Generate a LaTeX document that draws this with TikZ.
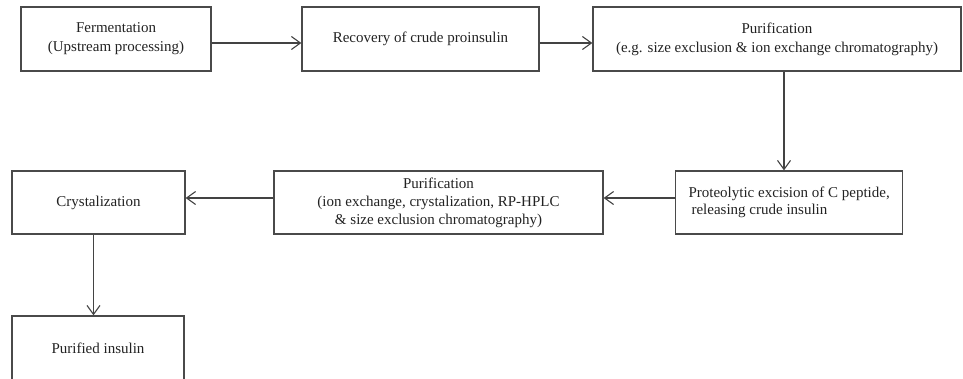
\documentclass[tikz,border=0pt]{standalone}
\usepackage{fontspec}
\setmainfont{Liberation Serif}
\usetikzlibrary{arrows.meta}
\definecolor{ink}{HTML}{222222}
\definecolor{edge}{HTML}{4A4A4A}
\begin{document}
\begin{tikzpicture}[x=1pt,y=-1pt,
  box/.style={draw=edge,line width=1.3pt,inner sep=0pt,text=ink,
    font=\fontsize{15}{19}\selectfont,align=center},
  arr/.style={draw=ink!85,line width=1.1pt,-{Straight Barb[length=9pt,width=13pt,line width=1.1pt]}}]
\useasboundingbox (0,0) rectangle (963,378);
\begin{scope}
\clip (0,0) rectangle (963,378);
\node[box,minimum width=190pt,minimum height=64pt] (b1) at (116,39) {Fermentation\\(Upstream processing)};
\node[box,minimum width=237pt,minimum height=64pt] (b2) at (420.5,39) {Recovery of crude proinsulin};
\node[box,minimum width=368pt,minimum height=64pt] (b3) at (777,39) {Purification\\(e.g. size exclusion \& ion exchange chromatography)};
\node[box,minimum width=227pt,minimum height=63pt,align=left,anchor=west,inner xsep=12pt,font=\fontsize{15}{17.5}\selectfont] (b4) at (675,202.5) {Proteolytic excision of C peptide,\\\hspace*{3pt}releasing crude insulin};
\node[box,minimum width=329pt,minimum height=63pt,font=\fontsize{15}{18}\selectfont] (b5) at (438.5,202.5) {Purification\\(ion exchange, crystalization, RP-HPLC\\\& size exclusion chromatography)};
\node[box,minimum width=173pt,minimum height=63pt] (b6) at (98.5,202.5) {Crystalization};
\node[box,minimum width=172pt,minimum height=64pt] (b7) at (98,348) {Purified insulin};
\end{scope}
\draw[arr] ([yshift=-4pt]b1.east) -- ([yshift=-4pt]b2.west);
\draw[arr] ([yshift=-4pt]b2.east) -- ([yshift=-4pt]b3.west);
\draw[arr] ([xshift=7pt]b3.south) -- ([xshift=7pt]b3.south |- b4.north);
\draw[arr] ([yshift=4.5pt]b4.west) -- ([yshift=4.5pt]b5.east);
\draw[arr] ([yshift=4.5pt]b5.west) -- ([yshift=4.5pt]b6.east);
\draw[arr] ([xshift=-5pt]b6.south) -- ([xshift=-5pt]b6.south |- b7.north);
\end{tikzpicture}
\end{document}
